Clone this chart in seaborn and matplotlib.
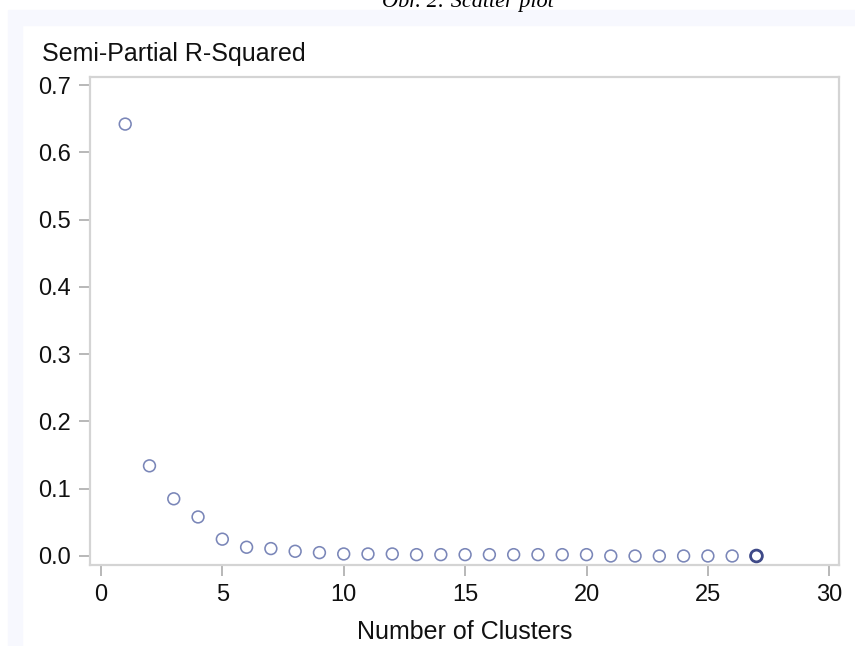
import matplotlib
matplotlib.use("Agg")
import matplotlib.pyplot as plt
from matplotlib.patches import Rectangle
import seaborn as sns
import pandas as pd

# Semi-partial R-squared by number of clusters
clusters = list(range(1, 28))
semi_partial_rsq = [0.642, 0.134, 0.085, 0.058, 0.025, 0.013, 0.011, 0.007, 0.005,
                    0.003, 0.003, 0.003, 0.002, 0.002, 0.002, 0.002, 0.002, 0.002,
                    0.002, 0.002, 0.000, 0.000, 0.000, 0.000, 0.000, 0.000, 0.000]
x_ticks = [0, 5, 10, 15, 20, 25, 30]
y_ticks = [0.0, 0.1, 0.2, 0.3, 0.4, 0.5, 0.6, 0.7]

df = pd.DataFrame({"Number of Clusters": clusters, "Semi-Partial R-Squared": semi_partial_rsq})

sns.set_theme(style="white")
plt.rcParams["font.family"] = ["Liberation Sans", "DejaVu Sans"]

W, H = 855, 646
fig = plt.figure(figsize=(W / 100, H / 100), dpi=100, facecolor="white")

# pale page frame
band = "#f7f8fe"
fig.patches.append(Rectangle((8 / W, 1 - 25 / H), 1 - 8 / W, 15 / H,
                             transform=fig.transFigure, color=band, zorder=0))
fig.patches.append(Rectangle((8 / W, 0), 14 / W, 1 - 25 / H,
                             transform=fig.transFigure, color=band, zorder=0))

# caption, partly cut by the top edge
fig.text(468 / W, 1 - 7 / H, "Obr. 2: Scatter plot", ha="center", va="baseline",
         family=["Liberation Serif", "DejaVu Serif"], style="italic", fontsize=16,
         color="black")

left, right, top, bottom = 90, 839, 77, 565
ax = fig.add_axes([left / W, 1 - bottom / H, (right - left) / W, (bottom - top) / H])
ax.set_facecolor("white")

edge = "#7a86b8"
sns.scatterplot(data=df, x="Number of Clusters", y="Semi-Partial R-Squared", ax=ax,
                marker="o", s=72, facecolors="none", edgecolor=edge, linewidth=1.15,
                zorder=3)
# the last cluster count is drawn over several times
last = df.iloc[[-1]]
sns.scatterplot(data=last, x="Number of Clusters", y="Semi-Partial R-Squared", ax=ax,
                marker="o", s=72, facecolors="none", edgecolor="#3f4a88", linewidth=2.0,
                zorder=4)

ax.set_xlim(-0.45, 30.4)
ax.set_ylim(-0.0134, 0.712)
ax.set_xticks(x_ticks)
ax.set_yticks(y_ticks)
ax.set_xticklabels([str(t) for t in x_ticks])
ax.set_yticklabels([f"{t:.1f}" for t in y_ticks])

for s in ax.spines.values():
    s.set_color("#d4d4d4")
    s.set_linewidth(1.6)
    s.set_visible(True)

ax.tick_params(axis="both", which="major", length=8, width=1.4, color="#b8b8b8",
               labelsize=17, labelcolor="#111111", direction="out")
ax.tick_params(axis="y", pad=5.5, left=True)
ax.tick_params(axis="x", pad=5.5, bottom=True)

ax.set_ylabel("")
ax.set_xlabel("Number of Clusters", fontsize=18, color="#111111", labelpad=10)
fig.text(42 / W, 1 - 61 / H, "Semi-Partial R-Squared", ha="left", va="baseline",
         fontsize=18, color="#111111")

fig.savefig("out.png", dpi=100, facecolor="white")
